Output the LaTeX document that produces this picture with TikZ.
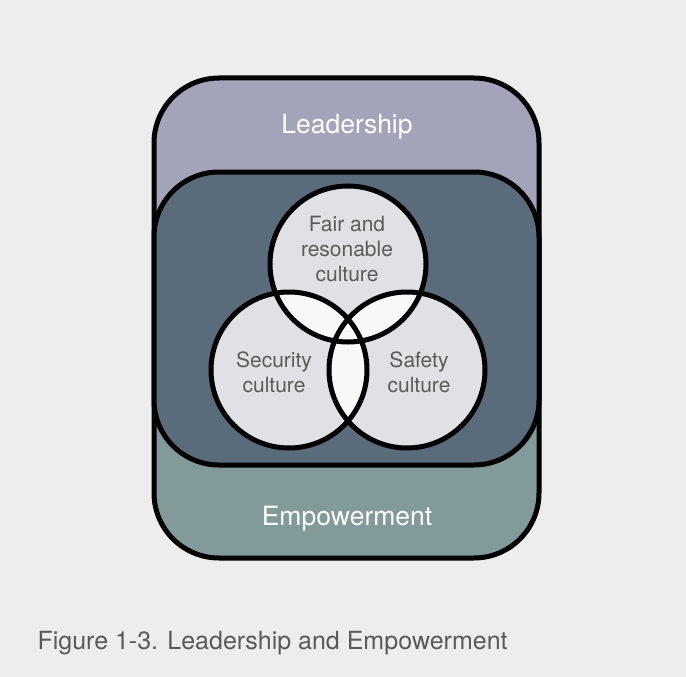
\documentclass[tikz,border=0pt]{standalone}
\usepackage{fontspec}
\setmainfont{TeX Gyre Heros}
\definecolor{pagebg}{HTML}{EDEDED}
\definecolor{leadfill}{HTML}{A3A3BA}
\definecolor{empfill}{HTML}{829A9A}
\definecolor{panelfill}{HTML}{5A6B7B}
\definecolor{circfill}{HTML}{DFE1E4}
\definecolor{overlapfill}{HTML}{F7F8F8}
\definecolor{circtxt}{HTML}{5B5B5B}
\definecolor{captxt}{HTML}{595959}
\begin{document}
\begin{tikzpicture}[x=1pt, y=-1pt,
  frame/.style={draw=black, line width=5pt},
  bandtext/.style={text=white, font=\fontsize{26.5}{30}\selectfont, anchor=base},
  circtext/.style={text=circtxt, font=\fontsize{21}{25}\selectfont, align=center}]
\useasboundingbox (0,0) rectangle (686,677);
% Page
\fill[pagebg] (0,0) rectangle (686,677);

% Outer band: Leadership over Empowerment
\begin{scope}
\clip[rounded corners=65pt] (154,78) rectangle (539,558);
\fill[leadfill] (154,78) rectangle (539,318);
\fill[empfill] (154,318) rectangle (539,558);
\end{scope}
\draw[frame, rounded corners=65pt] (154,78) rectangle (539,558);
\node[bandtext] (lead) at (347,133) {Leadership};
\node[bandtext] (empw) at (347,525) {Empowerment};

% Inner panel
\draw[frame, fill=panelfill, rounded corners=65pt] (154,172) rectangle (539,465);

% Three cultures
\coordinate (fairc) at (348,264);
\coordinate (secc) at (289,370);
\coordinate (safc) at (407,370);
\fill[circfill] (fairc) circle (78pt) (secc) circle (78pt) (safc) circle (78pt);
\begin{scope}
\clip (fairc) circle (78pt);
\fill[overlapfill] (secc) circle (78pt) (safc) circle (78pt);
\end{scope}
\begin{scope}
\clip (secc) circle (78pt);
\fill[overlapfill] (safc) circle (78pt);
\end{scope}
\draw[frame] (fairc) circle (78pt) (secc) circle (78pt) (safc) circle (78pt);
\node[circtext] (fair) at (347,249) {Fair and\\resonable\\culture};
\node[circtext] (secu) at (274,372) {Security\\culture};
\node[circtext] (safe) at (419,372) {Safety\\culture};

% Caption
\node[anchor=base west, text=captxt, font=\fontsize{25}{30}\selectfont] (cap) at (34,649) {Figure 1-3. Leadership and Empowerment};
\end{tikzpicture}
\end{document}
